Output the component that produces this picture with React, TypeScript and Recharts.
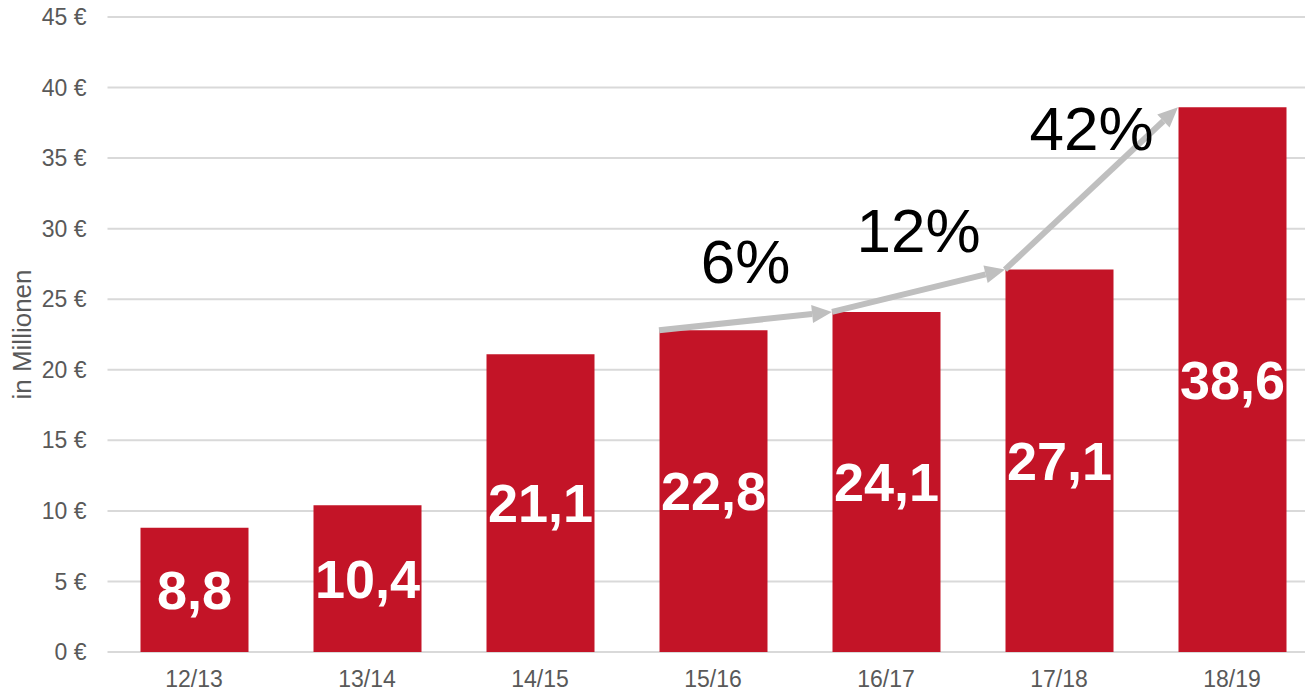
import React from 'react';
import { BarChart, Bar, XAxis, YAxis, CartesianGrid, LabelList, ReferenceLine } from 'recharts';

const categories = ['12/13', '13/14', '14/15', '15/16', '16/17', '17/18', '18/19'];
const values = [8.8, 10.4, 21.1, 22.8, 24.1, 27.1, 38.6];
const yTicks = [0, 5, 10, 15, 20, 25, 30, 35, 40, 45];
const growthFrom = ['15/16', '16/17', '17/18'];
const growthLabels = ['6%', '12%', '42%'];

const data = categories.map((c, i) => ({ name: c, value: values[i] }));

const FONT = '"Liberation Sans", Arial, sans-serif';
const RED = '#C31427';
const ARROW = '#BFBFBF';

const CHART_W = 1320;
const Y_W = 107.5;
const RIGHT = 1.5;
const BAR_SIZE = 108;
const BAND = (CHART_W - Y_W - RIGHT) / categories.length;
// distance from band start to the bar's left edge
const SHIFT = (BAND - BAR_SIZE) / 2;

function arrowShape(label: string) {
  return (p: any) => {
    const x1 = p.x1 + SHIFT;
    const x2 = p.x2 + SHIFT;
    const { y1, y2 } = p;
    const dx = x2 - x1;
    const dy = y2 - y1;
    const len = Math.sqrt(dx * dx + dy * dy);
    const ux = dx / len;
    const uy = dy / len;
    const head = 20;
    const half = 9;
    const bx = x2 - ux * head;
    const by = y2 - uy * head;
    const mx = (x1 + x2) / 2;
    const my = (y1 + y2) / 2;
    return (
      <g>
        <line x1={x1} y1={y1} x2={bx} y2={by} stroke={ARROW} strokeWidth={6} />
        <polygon
          points={`${x2},${y2} ${bx - uy * half},${by + ux * half} ${bx + uy * half},${by - ux * half}`}
          fill={ARROW}
        />
        <text x={mx} y={my - 60} textAnchor="middle" dominantBaseline="central" fontSize={62} fill="#000" fontFamily={FONT}>
          {label}
        </text>
      </g>
    );
  };
}

const YLabel = (props: any) => {
  const vb = props.viewBox;
  const cx = 22;
  const cy = vb.y + vb.height / 2;
  return (
    <text x={cx} y={cy} transform={`rotate(-90 ${cx} ${cy})`} textAnchor="middle" dominantBaseline="central" fontSize={26} fill="#595959" fontFamily={FONT}>
      in Millionen
    </text>
  );
};

export default function App() {
  return (
    <div style={{ position: 'absolute', left: 0, top: 0, width: 1305, height: 692, overflow: 'hidden', background: '#fff' }}>
      <BarChart width={CHART_W} height={692} data={data} margin={{ top: 17, right: RIGHT, left: 0, bottom: 0 }} style={{ fontFamily: FONT }}>
        <CartesianGrid vertical={false} stroke="#D9D9D9" strokeWidth={2} />
        <XAxis
          dataKey="name"
          axisLine={false}
          tickLine={false}
          tickSize={0}
          tickMargin={19}
          height={40}
          tick={{ fill: '#595959', fontSize: 23 }}
          interval={0}
        />
        <YAxis
          domain={[0, 45]}
          ticks={yTicks}
          width={Y_W}
          axisLine={false}
          tickLine={false}
          tickSize={0}
          tickMargin={21}
          tick={{ fill: '#595959', fontSize: 23 }}
          tickFormatter={(v: number) => `${v} €`}
          label={<YLabel />}
        />
        <Bar dataKey="value" fill={RED} barSize={BAR_SIZE} isAnimationActive={false}>
          <LabelList
            dataKey="value"
            position="center"
            fill="#fff"
            fontSize={54}
            fontWeight="bold"
            formatter={(v: any) => String(v).replace('.', ',')}
          />
        </Bar>
        {growthFrom.map((c, i) => {
          const idx = categories.indexOf(c);
          return (
            <ReferenceLine
              key={c}
              ifOverflow="visible"
              position="start"
              segment={[
                { x: categories[idx], y: values[idx] },
                { x: categories[idx + 1], y: values[idx + 1] },
              ]}
              shape={arrowShape(growthLabels[i])}
            />
          );
        })}
      </BarChart>
    </div>
  );
}
